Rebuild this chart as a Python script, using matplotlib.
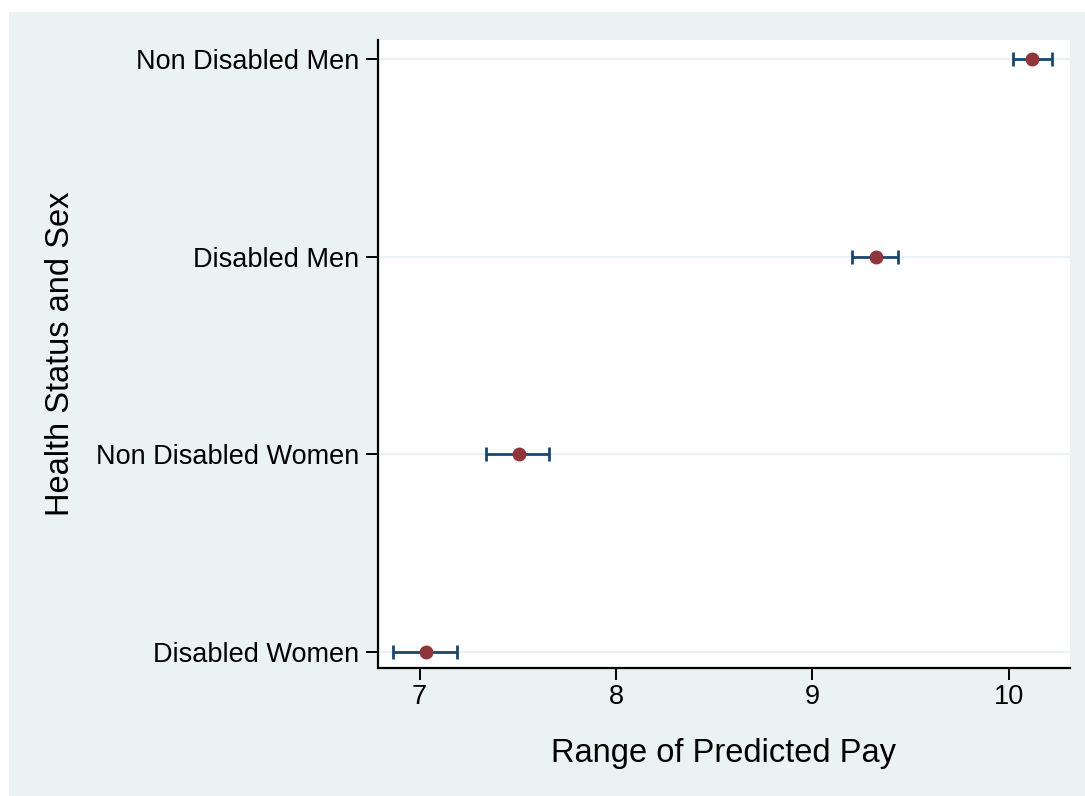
import matplotlib.pyplot as plt
from matplotlib.patches import Rectangle

plt.rcParams['font.family'] = ['Liberation Sans', 'DejaVu Sans']

groups = ["Disabled Women", "Non Disabled Women", "Disabled Men", "Non Disabled Men"]
pay = [7.034, 7.505, 9.325, 10.12]
pay_lo = [6.862, 7.338, 9.203, 10.02]
pay_hi = [7.189, 7.660, 9.437, 10.22]
xticks = [7, 8, 9, 10]

bg = "#EAF2F3"
navy = "#1A476F"
maroon = "#90353B"

fig = plt.figure(figsize=(10.85, 7.96), dpi=100)
# graph region background, with a thin white margin at top and left
fig.add_artist(Rectangle((9 / 1085, 0), 1, 1 - 12 / 796, transform=fig.transFigure,
                         facecolor=bg, edgecolor="none", zorder=-10))
ax = fig.add_axes([0.348, 0.1608, 0.638, 0.789])
ax.set_facecolor("white")

ypos = list(range(1, len(groups) + 1))
for y in ypos:
    ax.axhline(y, color=bg, lw=1.6, zorder=1)

err = [[p - lo for p, lo in zip(pay, pay_lo)], [hi - p for p, hi in zip(pay, pay_hi)]]
ax.errorbar(pay, ypos, xerr=err, fmt="none", ecolor=navy, elinewidth=2,
            capsize=4.7, capthick=2, zorder=2)
ax.plot(pay, ypos, "o", color=maroon, markersize=9, zorder=3)

ax.set_xlim(6.786, 10.31)
ax.set_ylim(0.92, 4.096)
ax.set_xticks(xticks)
ax.set_xticklabels([str(t) for t in xticks])
ax.set_yticks(ypos)
ax.set_yticklabels(groups)

for side in ["top", "right"]:
    ax.spines[side].set_visible(False)
for side in ["left", "bottom"]:
    ax.spines[side].set_linewidth(1.6)

ax.tick_params(axis="both", length=8.5, width=1.4, labelsize=19.5)
ax.tick_params(axis="y", pad=5)
ax.tick_params(axis="x", pad=3)

ax.set_xlabel("Range of Predicted Pay", fontsize=23.5, labelpad=20)
ax.set_ylabel("Health Status and Sex", fontsize=23.5, labelpad=14)

fig.savefig("out.png", dpi=100)
